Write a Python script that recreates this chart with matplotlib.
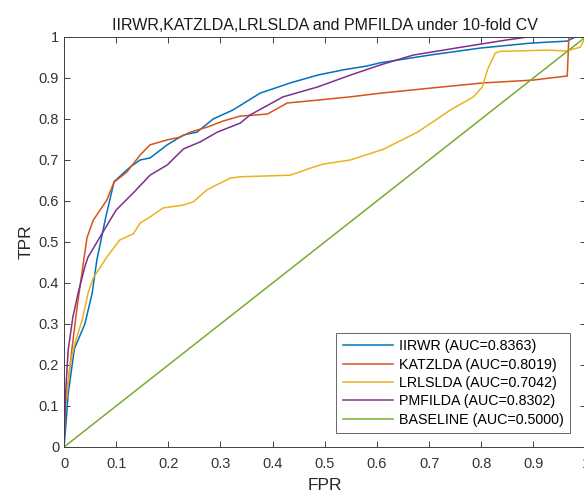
import numpy as np
import matplotlib.pyplot as plt

plt.rcParams['font.family'] = ['Liberation Sans', 'DejaVu Sans']

# ROC waypoints (FPR, TPR)
iirwr_fpr = [0, 0.004, 0.008, 0.02, 0.04, 0.054, 0.063, 0.08, 0.096, 0.107, 0.127, 0.146,
             0.165, 0.198, 0.229, 0.255, 0.286, 0.324, 0.376, 0.434, 0.486, 0.536, 0.58,
             0.606, 0.702, 0.798, 0.894, 0.965, 0.98, 1.0]
iirwr_tpr = [0, 0.06, 0.13, 0.24, 0.30, 0.375, 0.456, 0.56, 0.647, 0.66, 0.683, 0.70,
             0.705, 0.737, 0.761, 0.768, 0.80, 0.822, 0.863, 0.888, 0.907, 0.92, 0.929,
             0.937, 0.956, 0.973, 0.985, 0.99, 1.0, 1.0]

katz_fpr = [0, 0.002, 0.005, 0.015, 0.025, 0.035, 0.044, 0.056, 0.082, 0.096, 0.12, 0.146,
            0.165, 0.198, 0.223, 0.242, 0.274, 0.305, 0.338, 0.39, 0.428, 0.486, 0.549,
            0.607, 0.708, 0.804, 0.9, 0.965, 0.968, 1.0]
katz_tpr = [0, 0.1, 0.12, 0.237, 0.34, 0.43, 0.51, 0.553, 0.602, 0.646, 0.67, 0.712,
            0.737, 0.749, 0.756, 0.768, 0.78, 0.795, 0.807, 0.812, 0.839, 0.846, 0.854,
            0.863, 0.876, 0.888, 0.895, 0.905, 1.0, 1.0]

lrls_fpr = [0, 0.002, 0.005, 0.012, 0.021, 0.035, 0.046, 0.056, 0.082, 0.107, 0.133, 0.146,
            0.165, 0.19, 0.229, 0.248, 0.274, 0.3, 0.319, 0.338, 0.434, 0.472, 0.497,
            0.549, 0.612, 0.678, 0.741, 0.785, 0.802, 0.812, 0.818, 0.827, 0.837, 0.927,
            0.962, 0.99, 1.0]
lrls_tpr = [0, 0.1, 0.12, 0.205, 0.254, 0.31, 0.375, 0.412, 0.463, 0.505, 0.52, 0.546,
            0.561, 0.583, 0.59, 0.598, 0.627, 0.644, 0.656, 0.659, 0.663, 0.68, 0.69,
            0.70, 0.726, 0.768, 0.822, 0.854, 0.878, 0.92, 0.937, 0.961, 0.965, 0.968,
            0.966, 0.975, 1.0]

pmf_fpr = [0, 0.003, 0.008, 0.017, 0.027, 0.04, 0.046, 0.069, 0.10, 0.133, 0.165, 0.198,
           0.229, 0.261, 0.294, 0.338, 0.357, 0.42, 0.486, 0.549, 0.607, 0.67, 0.766,
           0.85, 0.889, 1.0]
pmf_tpr = [0, 0.13, 0.237, 0.317, 0.375, 0.44, 0.463, 0.512, 0.578, 0.62, 0.663, 0.688,
           0.727, 0.744, 0.768, 0.79, 0.81, 0.854, 0.878, 0.907, 0.932, 0.956, 0.976,
           0.993, 1.0, 1.0]

base_fpr = [0, 1]
base_tpr = [0, 1]

labels = ['IIRWR (AUC=0.8363)', 'KATZLDA (AUC=0.8019)', 'LRLSLDA (AUC=0.7042)',
          'PMFILDA (AUC=0.8302)', 'BASELINE (AUC=0.5000)']
colors = ['#0072BD', '#D95319', '#EDB120', '#7E2F8E', '#77AC30']

series = [(iirwr_fpr, iirwr_tpr), (katz_fpr, katz_tpr), (lrls_fpr, lrls_tpr),
          (pmf_fpr, pmf_tpr), (base_fpr, base_tpr)]

fig = plt.figure(figsize=(5.84, 4.92), dpi=100)
ax = fig.add_axes([0.1096, 0.0915, 0.893, 0.8333])

for (fx, ty), lab, c in zip(series, labels, colors):
    ax.plot(fx, ty, color=c, linewidth=1.1, label=lab)

ticks = np.arange(0, 1.01, 0.1)
tick_text = ['0', '0.1', '0.2', '0.3', '0.4', '0.5', '0.6', '0.7', '0.8', '0.9', '1']
ax.set_xlim(0, 1)
ax.set_ylim(0, 1)
ax.set_xticks(ticks)
ax.set_yticks(ticks)
ax.set_xticklabels(tick_text)
ax.set_yticklabels(tick_text)
ax.tick_params(direction='in', top=True, right=True, length=4, width=0.7,
               labelsize=10.5, colors='#404040', labelcolor='#333333')
ax.tick_params(axis='x', pad=7)
ax.tick_params(axis='y', pad=3.5)
for s in ax.spines.values():
    s.set_color('#404040')
    s.set_linewidth(0.7)

ax.set_xlabel('FPR', fontsize=12.5, color='#262626', labelpad=5)
ax.set_ylabel('TPR', fontsize=12.5, color='#262626', labelpad=4)
ax.set_title('IIRWR,KATZLDA,LRLSLDA and PMFILDA under 10-fold CV', fontsize=11.5,
             color='#1a1a1a', pad=5)

leg = ax.legend(loc='lower right', bbox_to_anchor=(0.970, 0.034), fontsize=10.3,
                frameon=True, fancybox=False, edgecolor='#404040', handlelength=3.5,
                handletextpad=0.4, borderpad=0.45, labelspacing=0.3, borderaxespad=0)
leg.get_frame().set_linewidth(0.7)

fig.savefig('out.png', dpi=100)
